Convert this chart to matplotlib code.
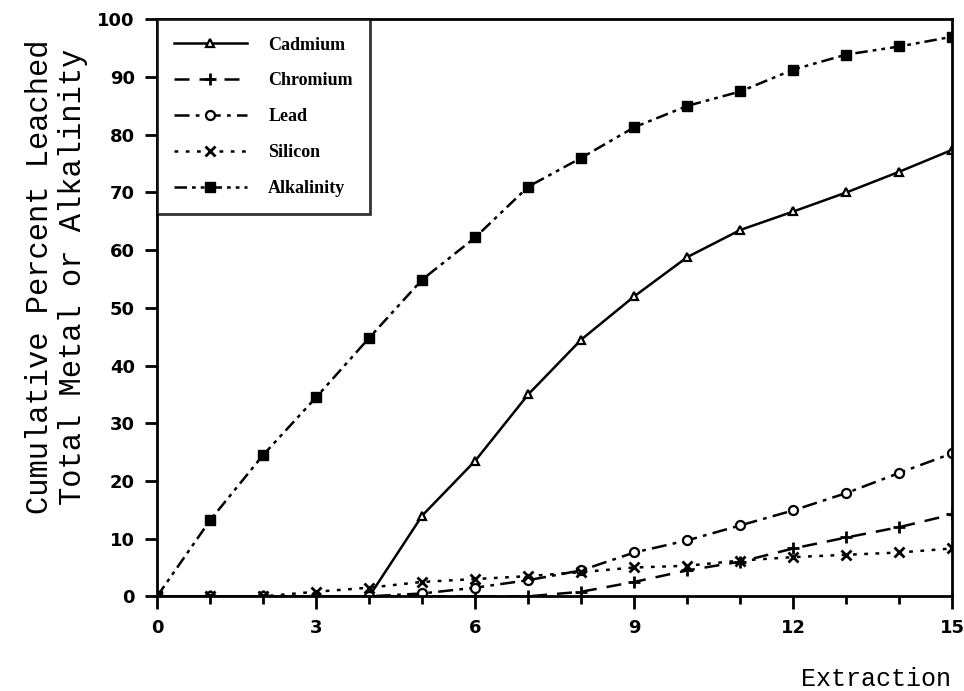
import matplotlib
matplotlib.use("Agg")
import matplotlib.pyplot as plt

# cumulative percent leached per extraction
extraction = list(range(16))
cadmium = [0, 0, 0, 0, 0, 14, 23.5, 35, 44.5, 52, 58.8, 63.5, 66.7, 70, 73.6, 77.4]
chromium = [0, 0, 0, 0, 0, 0, 0, 0, 0.8, 2.5, 4.5, 6, 8.3, 10.2, 12, 14.2]
lead = [0, 0, 0, 0, 0, 0.5, 1.5, 2.8, 4.5, 7.6, 9.7, 12.3, 14.9, 17.9, 21.4, 24.8]
silicon = [0, 0, 0, 0.8, 1.5, 2.5, 3, 3.5, 4.2, 5, 5.3, 6.2, 6.8, 7.2, 7.6, 8.3]
alkalinity = [0, 13.2, 24.5, 34.5, 44.8, 54.9, 62.2, 71, 76, 81.3, 85, 87.5, 91.3, 93.9, 95.3, 97]

x_ticks = [0, 3, 6, 9, 12, 15]
y_ticks = list(range(0, 101, 10))

fig = plt.figure(figsize=(9.64, 6.91), dpi=100)
ax = fig.add_axes([0.163, 0.137, 0.825, 0.835])

lw = 1.8
ax.plot(extraction, cadmium, color="black", lw=lw, ls="-", marker="^", ms=6,
        mfc="white", mec="black", mew=1.6, label="Cadmium")
ax.plot(extraction, chromium, color="black", lw=lw, ls=(0, (6, 4)), marker="+", ms=9,
        mew=2, label="Chromium")
ax.plot(extraction, lead, color="black", lw=lw, ls=(0, (6, 2.5, 1.5, 2.5)), marker="o", ms=6.5,
        mfc="white", mec="black", mew=1.6, label="Lead")
ax.plot(extraction, silicon, color="black", lw=lw, ls=(0, (1.5, 3)), marker="x", ms=7,
        mew=2, label="Silicon")
ax.plot(extraction, alkalinity, color="black", lw=lw, ls=(0, (5, 2, 1.5, 2, 1.5, 2)), marker="s",
        ms=7, mfc="black", mec="black", label="Alkalinity")

ax.set_xlim(0, 15)
ax.set_ylim(0, 100)
ax.set_xticks(x_ticks)
ax.set_xticks(extraction, minor=True)
ax.set_yticks(y_ticks)
ax.tick_params(which="both", direction="out", width=2, labelsize=13)
ax.tick_params(which="major", length=9, pad=7)
ax.tick_params(which="minor", length=6)
for lab in ax.get_xticklabels() + ax.get_yticklabels():
    lab.set_fontweight("bold")
for sp in ax.spines.values():
    sp.set_linewidth(2)

fig.text(0.042, 0.6, "Cumulative Percent Leached", rotation=90, ha="center", va="center",
         family="Liberation Mono", fontsize=22)
fig.text(0.076, 0.6, "Total Metal or Alkalinity", rotation=90, ha="center", va="center",
         family="Liberation Mono", fontsize=22)
fig.text(0.986, 0.0, "Extraction", ha="right", va="bottom",
         family="Liberation Mono", fontsize=18)

leg = ax.legend(loc="upper left", handlelength=4.0, borderaxespad=0, frameon=True, fancybox=False,
                edgecolor="black", prop={"family": "Liberation Serif", "weight": "bold", "size": 13},
                labelspacing=1.05, borderpad=0.95, handletextpad=1.2)
leg.get_frame().set_linewidth(2)

fig.savefig("out.png", dpi=100, facecolor="white")
